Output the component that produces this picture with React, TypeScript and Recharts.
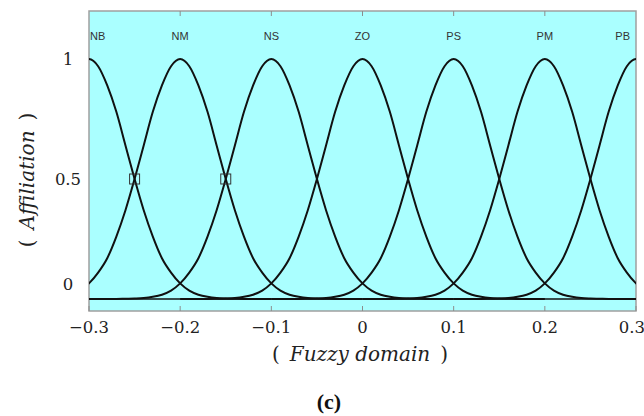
import React from 'react';
import {CartesianGrid, ComposedChart, Line, ReferenceArea, ReferenceLine, Scatter, XAxis, YAxis} from 'recharts';

// Linguistic terms and the centre of each membership function
const TERMS = ['NB', 'NM', 'NS', 'ZO', 'PS', 'PM', 'PB'];
const CENTERS = [-0.3, -0.2, -0.1, 0, 0.1, 0.2, 0.3];

// Membership against distance from a term's centre (same on both sides)
const PROFILE_OFFSETS = [0, 0.01, 0.02, 0.03, 0.04, 0.05, 0.06, 0.07, 0.08, 0.09, 0.1,
  0.11, 0.12, 0.13, 0.14, 0.15, 0.16, 0.17, 0.18, 0.19, 0.2];
const PROFILE_VALUES = [1, 0.97, 0.89, 0.78, 0.64, 0.5, 0.37, 0.26, 0.17, 0.11, 0.065,
  0.035, 0.018, 0.009, 0.004, 0.002, 0.001, 0, 0, 0, 0];

// Crossing points marked with small squares
const MARK_X = [-0.25, -0.15];
const MARK_Y = [0.5, 0.5];

const X_DOMAIN = [-0.3, 0.3];
const Y_DOMAIN = [-0.05, 1.2];
const X_TICKS = [-0.3, -0.2, -0.1, 0, 0.1, 0.2, 0.3];
const X_TICK_LABELS = ['\u22120.3', '\u22120.2', '\u22120.1', '0', '0.1', '0.2', '0.3'];
const Y_TICKS = [0, 0.5, 1];
const Y_TICK_LABELS = ['0', '0.5', '1'];

const SERIF = '"DejaVu Serif", serif';
const BORDER = '#a0a0a0';
const TICK = '#8c8c8c';

const curve = (center: number) => {
  const left = PROFILE_OFFSETS.slice(1).reverse().map((o, i) => ({
    x: +(center - o).toFixed(3),
    y: PROFILE_VALUES[PROFILE_VALUES.length - 1 - i],
  }));
  const right = PROFILE_OFFSETS.map((o, i) => ({x: +(center + o).toFixed(3), y: PROFILE_VALUES[i]}));
  return [...left, ...right];
};

const markers = MARK_X.map((x, i) => ({x, y: MARK_Y[i]}));

const BottomTick = (props: any) => {
  const {x, y, index} = props;
  const last = index === X_TICKS.length - 1;
  return (
    <g>
      <line x1={x} x2={x} y1={y - 5} y2={y} stroke={TICK} strokeWidth={1} />
      <text
        x={last ? x + 9 : x}
        y={y + 22}
        textAnchor={last ? 'end' : 'middle'}
        fontFamily={SERIF}
        fontSize={16.5}
        fill="#222"
      >
        {X_TICK_LABELS[index]}
      </text>
    </g>
  );
};

const TopTick = (props: any) => {
  const {x, y, index} = props;
  const first = index === 0;
  const last = index === TERMS.length - 1;
  const anchor = first ? 'start' : last ? 'end' : 'middle';
  return (
    <g>
      {!first && !last && <line x1={x} x2={x} y1={y} y2={y + 5} stroke={TICK} strokeWidth={1} />}
      <text
        x={first ? x + 1 : last ? x - 6 : x}
        y={y + 29}
        textAnchor={anchor}
        fontFamily='"Liberation Sans", Arial, sans-serif'
        fontSize={11}
        fill="#333"
      >
        {TERMS[index]}
      </text>
    </g>
  );
};

const LeftTick = (props: any) => {
  const {x, y, index} = props;
  // the zero label sits a little above its gridline
  const dy = Y_TICKS[index] === 0 ? -15 : 0;
  return (
    <text x={x - 21} y={y + dy + 6} textAnchor="middle" fontFamily={SERIF} fontSize={16.5} fill="#222">
      {Y_TICK_LABELS[index]}
    </text>
  );
};

const Square = (props: any) => {
  const {cx, cy} = props;
  return <rect x={cx - 5} y={cy - 5} width={10} height={10} fill="none" stroke="#333" strokeWidth={1} />;
};

export default function App() {
  return (
    <div style={{position: 'absolute', left: 0, top: 0, background: '#fff'}}>
      <ComposedChart width={644} height={416} margin={{top: 10, right: 8, left: 0, bottom: 0}}>
        <CartesianGrid fill="#aaffff" horizontal={false} vertical={false} />
        <XAxis
          xAxisId="b"
          dataKey="x"
          type="number"
          domain={X_DOMAIN}
          allowDataOverflow
          ticks={X_TICKS}
          interval={0}
          height={105}
          tickSize={0}
          tickMargin={0}
          tickLine={false}
          axisLine={false}
          tick={<BottomTick />}
        />
        <XAxis
          xAxisId="t"
          orientation="top"
          dataKey="x"
          type="number"
          domain={X_DOMAIN}
          allowDataOverflow
          ticks={CENTERS}
          interval={0}
          height={1}
          tickSize={0}
          tickMargin={0}
          tickLine={false}
          axisLine={false}
          tick={<TopTick />}
        />
        <YAxis
          yAxisId="l"
          type="number"
          domain={Y_DOMAIN}
          allowDataOverflow
          ticks={Y_TICKS}
          interval={0}
          width={89}
          tickSize={0}
          tickMargin={0}
          tickLine={false}
          axisLine={false}
          tick={<LeftTick />}
        />
        <YAxis yAxisId="r" orientation="right" type="number" domain={Y_DOMAIN} width={1} hide />
        {/* plot frame */}
        <ReferenceArea
          xAxisId="b"
          yAxisId="l"
          x1={X_DOMAIN[0]}
          x2={X_DOMAIN[1]}
          y1={Y_DOMAIN[0]}
          y2={Y_DOMAIN[1]}
          fill="none"
          fillOpacity={0}
          stroke={BORDER}
          strokeWidth={1.5}
        />
        <ReferenceLine xAxisId="b" yAxisId="l" y={0} stroke="#111" strokeWidth={1.6} />
        {CENTERS.map((c, i) => (
          <Line
            key={TERMS[i]}
            xAxisId="b"
            yAxisId="l"
            data={curve(c)}
            dataKey="y"
            type="monotone"
            stroke="#111"
            strokeWidth={2}
            dot={false}
            activeDot={false}
            isAnimationActive={false}
          />
        ))}
        <Scatter
          xAxisId="b"
          yAxisId="l"
          data={markers}
          dataKey="y"
          shape={<Square />}
          isAnimationActive={false}
        />
        <text x={27} y={180} transform="rotate(-90, 27, 180)" textAnchor="middle" dominantBaseline="central"
          fontFamily={SERIF} fontSize={20} fill="#222">
          <tspan fontStyle="normal">(</tspan>
          <tspan fontStyle="italic">{'\u2002Affiliation\u2002'}</tspan>
          <tspan fontStyle="normal">)</tspan>
        </text>
        <text x={360} y={354} textAnchor="middle" dominantBaseline="central" fontFamily={SERIF} fontSize={20} fill="#222">
          <tspan fontStyle="normal">(</tspan>
          <tspan fontStyle="italic">{'\u2002Fuzzy domain\u2002'}</tspan>
          <tspan fontStyle="normal">)</tspan>
        </text>
        <text x={329} y={401} textAnchor="middle" dominantBaseline="central"
          fontFamily='"Liberation Serif", serif' fontWeight="bold" fontSize={22} fill="#111">
          (c)
        </text>
      </ComposedChart>
    </div>
  );
}
